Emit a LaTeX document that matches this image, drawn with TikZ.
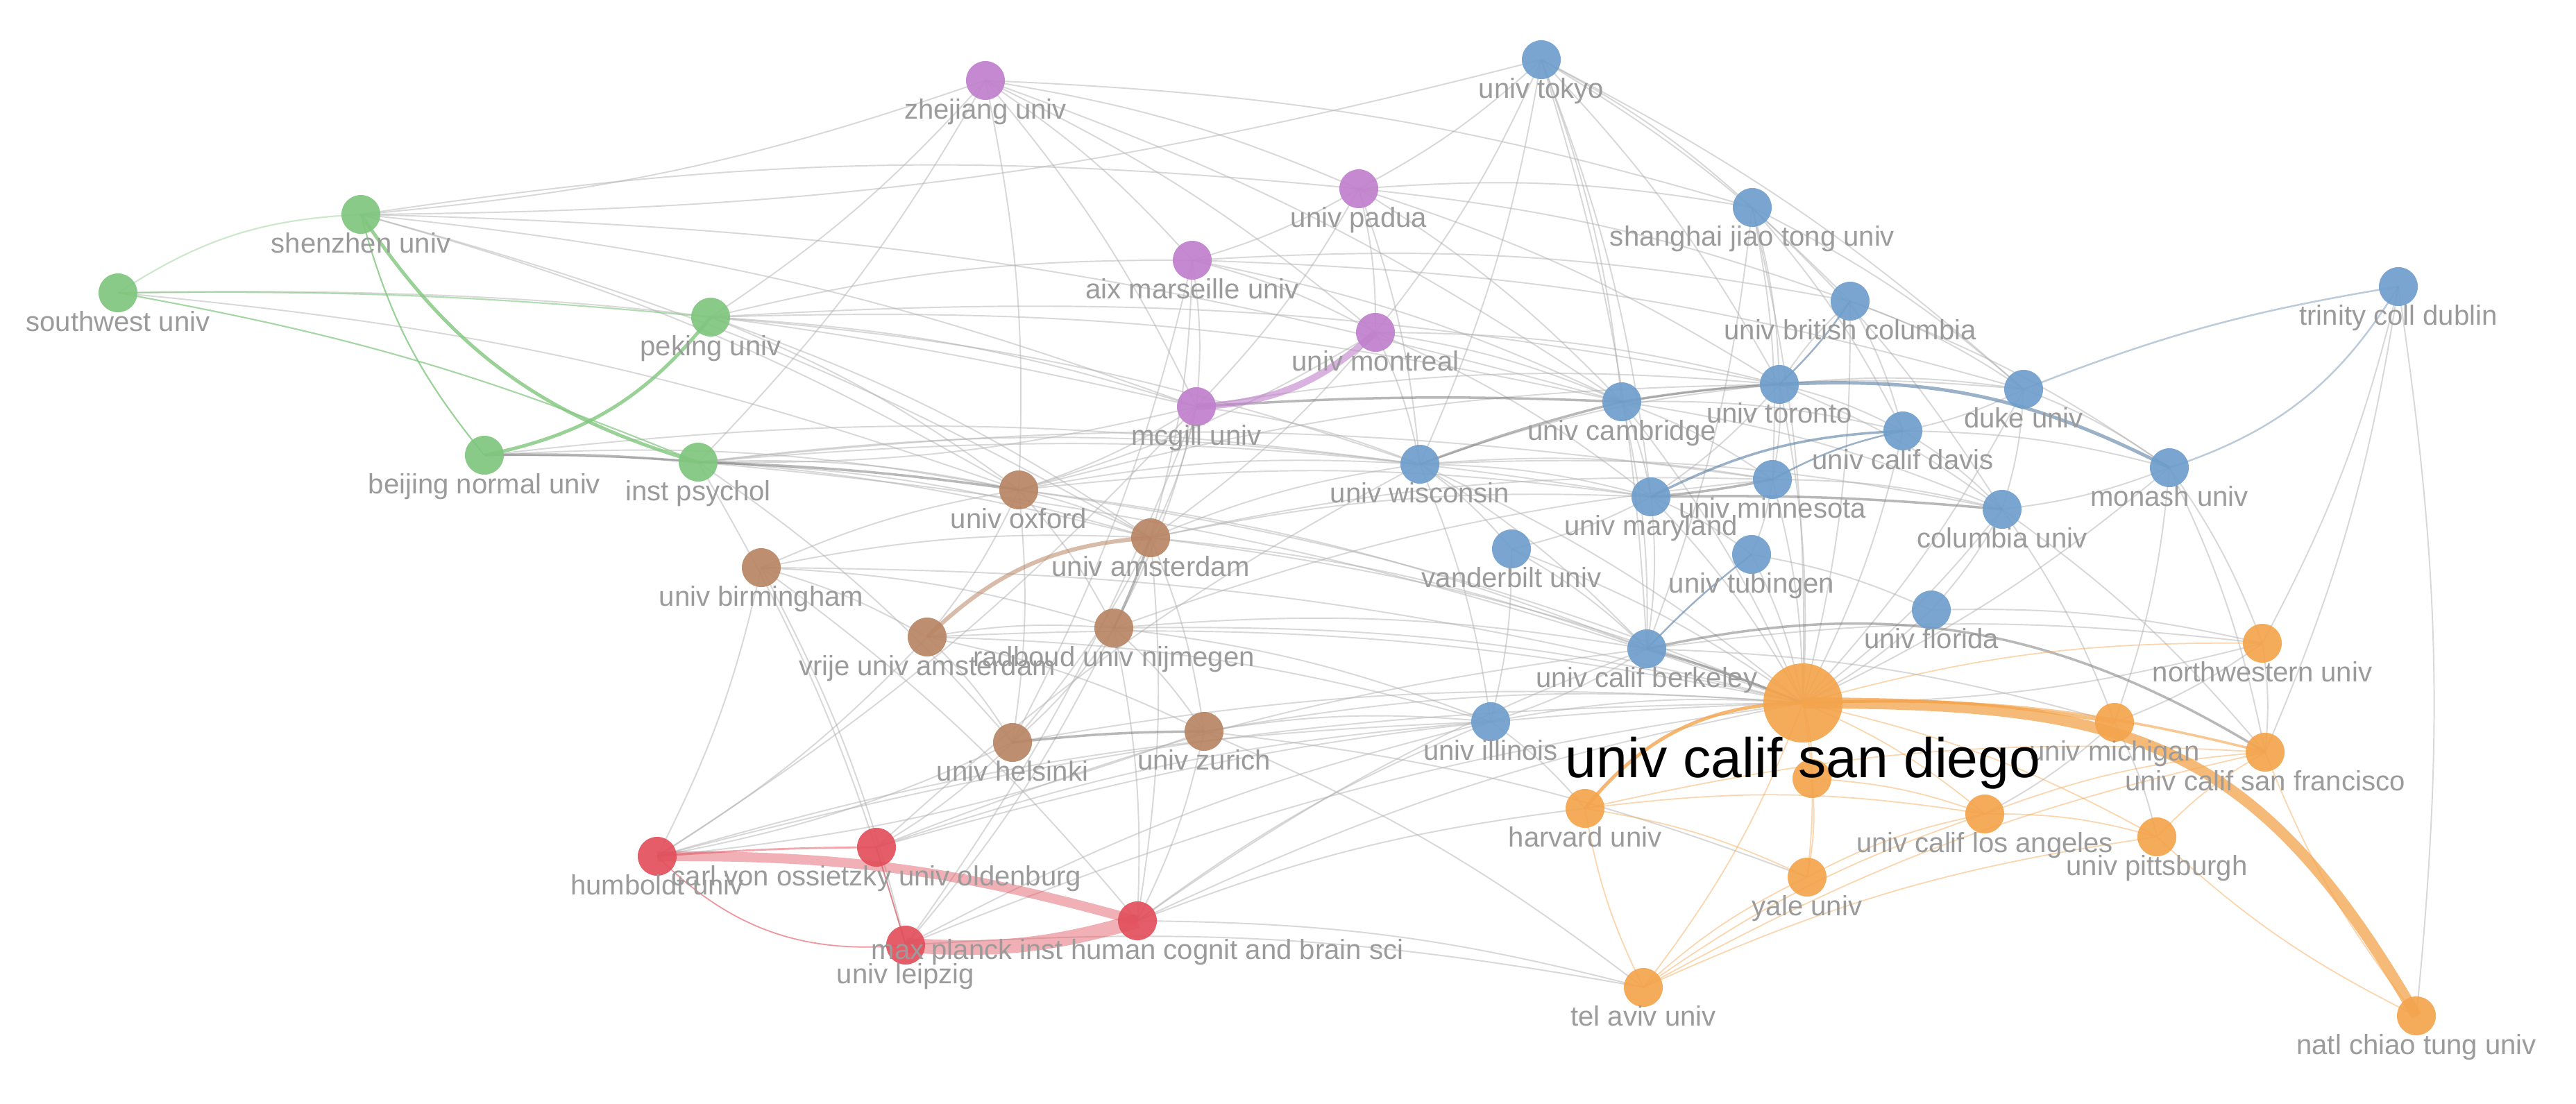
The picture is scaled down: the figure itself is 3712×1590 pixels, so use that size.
\documentclass[tikz,border=0pt]{standalone}
\usepackage{fontspec}
\setmainfont{Liberation Sans}
\usetikzlibrary{backgrounds}
\definecolor{cG}{RGB}{128,198,126}
\definecolor{cP}{RGB}{192,128,204}
\definecolor{cB}{RGB}{110,158,204}
\definecolor{cBr}{RGB}{185,133,100}
\definecolor{cR}{RGB}{226,80,92}
\definecolor{cO}{RGB}{244,164,76}
\definecolor{labgray}{RGB}{155,155,155}
\newcommand\labf{\fontsize{11.4}{13}\selectfont}
\newcommand\bigf{\fontsize{22.9}{26}\selectfont}
\tikzset{
  nd/.style={circle, minimum size=0.56cm, inner sep=0pt, fill opacity=0.92},
  gN/.style={nd, fill=cG}, pN/.style={nd, fill=cP}, bN/.style={nd, fill=cB},
  brN/.style={nd, fill=cBr}, rN/.style={nd, fill=cR}, oN/.style={nd, fill=cO},
  lab/.style={text=labgray, font=\labf, inner sep=0pt, anchor=base},
  ge/.style={draw=black!30, line width=0.55pt, opacity=0.5},
  ge2/.style={draw=black!55, line width=1pt, opacity=0.5},
  oe/.style={draw=cO, line width=0.5pt, opacity=0.45},
  be/.style={draw=cB!80!black, line width=0.7pt, opacity=0.6},
}
\begin{document}
\begin{tikzpicture}[x=0.01cm, y=-0.01cm]
\useasboundingbox (0,0) rectangle (3712,1590);
% nodes
\node[gN] (sw) at (170,422) {};
\node[gN] (sz) at (520,309) {};
\node[gN] (pk) at (1024,457) {};
\node[gN] (bn) at (698,656) {};
\node[gN] (ip) at (1006,666) {};
\node[pN] (zj) at (1420,116) {};
\node[pN] (pd) at (1958,272) {};
\node[pN] (ax) at (1718,375) {};
\node[pN] (mt) at (1982,479) {};
\node[pN] (mg) at (1724,586) {};
\node[bN] (tk) at (2221,86) {};
\node[bN] (sj) at (2525,299) {};
\node[bN] (bc) at (2666,434) {};
\node[bN] (tc) at (3456,413) {};
\node[bN] (tr) at (2564,554) {};
\node[bN] (ca) at (2337,579) {};
\node[bN] (du) at (2916,561) {};
\node[bN] (dv) at (2742,621) {};
\node[bN] (mo) at (3126,674) {};
\node[bN] (wi) at (2046,669) {};
\node[bN] (mn) at (2554,691) {};
\node[bN] (md) at (2379,716) {};
\node[bN] (co) at (2885,734) {};
\node[bN] (vb) at (2178,791) {};
\node[bN] (tu) at (2524,799) {};
\node[bN] (fl) at (2783,879) {};
\node[bN] (bk) at (2373,935) {};
\node[bN] (il) at (2148,1040) {};
\node[brN] (ox) at (1468,706) {};
\node[brN] (am) at (1658,775) {};
\node[brN] (bh) at (1097,818) {};
\node[brN] (vr) at (1336,918) {};
\node[brN] (rb) at (1605,905) {};
\node[brN] (hs) at (1459,1070) {};
\node[brN] (zu) at (1735,1054) {};
\node[rN] (hb) at (947,1234) {};
\node[rN] (cv) at (1263,1221) {};
\node[rN] (mp) at (1639,1327) {};
\node[rN] (lp) at (1305,1362) {};
\node[oN, minimum size=1.14cm] (sd) at (2598,1013) {};
\node[oN] (hv) at (2284,1165) {};
\node[oN] (ta) at (2368,1423) {};
\node[oN] (ya) at (2604,1264) {};
\node[oN] (ul) at (2860,1173) {};
\node[oN] (pt) at (3108,1206) {};
\node[oN] (mi) at (3047,1041) {};
\node[oN] (nw) at (3260,927) {};
\node[oN] (sf) at (3264,1084) {};
\node[oN] (nc) at (3482,1464) {};
\node[oN] (un) at (2611,1122) {};
% edges
\begin{scope}[on background layer]
\fill[white] (0,0) rectangle (3712,1590);
\foreach \a/\b in {zj/sz, zj/pk, zj/mg, zj/ax, zj/mt, zj/pd, zj/ip, zj/ox, zj/sj, zj/ca,
  tk/pd, tk/mt, tk/wi, tk/ca, tk/bk, tk/sj, tk/bc, tk/du, tk/tr, tk/md, tk/sz,
  sz/pd, sz/ox, sz/mg, sz/ca, sz/am, sw/mg, sw/ox,
  pd/ax, pd/mt, pd/mg, pd/sj, pd/bc, pd/ca, pd/tr, pd/wi,
  ax/mt, ax/mg, ax/bc, ax/du, ax/hs, ax/ca, ax/am,
  mt/tr, mt/ca, mt/wi, mt/md, mt/am, mt/ox,
  mg/ox, mg/am, mg/rb, mg/tr, mg/wi, mg/ip, mg/hb, mg/lp,
  pk/ca, pk/wi, pk/tr, pk/ox, pk/mg, pk/am, pk/ax,
  ip/ox, ip/am, ip/wi, ip/md, ip/sd, ip/mn, ip/hs, ip/lp,
  bn/ox, bn/am, bn/wi,
  bh/hb, bh/am, bh/ox, bh/vr, bh/lp, bh/sd, bh/mp, bh/rb,
  ox/am, ox/wi, ox/vr, ox/rb, ox/hs, ox/tr, ox/sd, ox/bk, ox/md,
  am/wi, am/md, am/sd, am/zu, am/hs, am/bk, am/mp, am/mn,
  vr/rb, vr/hs, vr/zu, vr/sd, vr/il, vr/hb,
  rb/zu, rb/hs, rb/sd, rb/bk, rb/il, rb/mn, rb/lp, rb/mp,
  hs/cv, hs/hb, hs/sd, zu/il, zu/sd, zu/ta, zu/hb, zu/mp, zu/ya,
  hb/il, hb/sd, cv/il, cv/sd, cv/bk, cv/wi,
  mp/sd, mp/il, mp/ta, mp/hv, mp/bk, lp/ta, lp/sd, lp/il,
  wi/md, wi/mn, wi/bk, wi/sd, wi/vb, wi/il, wi/co, wi/tr,
  ca/md, ca/mn, ca/dv, ca/sd, ca/bk, ca/du, ca/co,
  tr/du, tr/dv, tr/mn, tr/md, tr/sd, tr/co, tr/bc,
  bc/dv, bc/du, bc/mo, bc/sd, sj/tr, sj/mn, sj/dv, sj/sd, sj/bk, sj/co, sj/du,
  du/mo, du/dv, du/sd, du/co, dv/mo, dv/co, dv/sd,
  mo/co, mo/sd, mo/nw, mo/sf, mo/mi, tc/sf, tc/nw, tc/nc,
  mn/co, mn/sd, mn/tu, md/sd, md/vb, md/bk, md/tu,
  co/sd, co/fl, co/mi, co/sf, vb/sd, vb/bk, vb/il, tu/sd, tu/fl,
  fl/sd, fl/nw, bk/il, bk/mi, bk/nw, il/sd, il/hv, nw/sd, nw/sf, nw/mi, mi/ul, mi/pt}
  \draw[ge] (\a.center) to[bend left=7] (\b.center);
\foreach \a/\b in {mg/ca, bn/ip, ca/tr, md/co, hs/zu, bk/sd, wi/ca, am/rb, ip/ox, mn/md}
  \draw[ge2] (\a.center) to[bend left=3] (\b.center);
\draw[ge2] (bk.center) to[bend left=22] (sf.center);
% orange
\foreach \a/\b in {sd/ul, sd/pt, sd/ya, sd/un, sd/ta, sd/nw, ta/hv, ta/ya, ta/ul, ya/ul,
  hv/ul, hv/ya, ul/pt, ul/sf, pt/sf, ta/sf, nc/sf, nc/pt, un/ya, un/ul, hv/sf, ta/pt}
  \draw[oe] (\a.center) to[bend left=8] (\b.center);
\draw[cO, line width=1.2pt, opacity=0.7] (sd.center) to[bend left=6] (mi.center);
\draw[cO, line width=1pt, opacity=0.6] (sd.center) to[bend left=8] (sf.center);
\draw[cO, line width=1.4pt, opacity=0.8] (sd.center) to[bend right=25] (hv.center);
\draw[cO, line width=4.5pt, opacity=0.75] (sd.center) to[out=0, in=120, looseness=1.2] (nc.center);
% blue
\draw[be, line width=1.4pt] (tr.center) to[bend left=15] (mo.center);
\draw[be, line width=1pt] (md.center) to[bend left=12] (dv.center);
\draw[be] (mn.center) to[bend left=8] (dv.center);
\draw[be, opacity=0.4] (tc.center) to[bend right=6] (du.center);
\draw[be, opacity=0.4] (tc.center) to[bend left=20] (mo.center);
\draw[be] (bk.center) to[bend left=4] (tu.center);
\draw[be] (bc.center) to[bend left=6] (tr.center);
% green
\draw[cG, line width=1.4pt, opacity=0.8] (sz.center) to[bend right=20] (ip.center);
\draw[cG, line width=1.4pt, opacity=0.8] (bn.center) to[bend right=20] (pk.center);
\draw[cG, line width=0.6pt, opacity=0.8] (sz.center) to[bend right=12] (bn.center);
\draw[cG, line width=0.6pt, opacity=0.7] (sw.center) to[bend left=6] (ip.center);
\draw[cG, line width=0.6pt, opacity=0.6] (sw.center) to[bend left=3] (pk.center);
\draw[cG, line width=0.6pt, opacity=0.4] (sw.center) to[bend left=15] (sz.center);
% purple
\draw[cP, line width=2.8pt, opacity=0.6] (mg.center) to[bend right=20] (mt.center);
% brown
\draw[cBr, line width=1.7pt, opacity=0.55] (vr.center) to[bend left=20] (am.center);
% red
\draw[cR, line width=4pt, opacity=0.45] (hb.center) to[bend left=8] (mp.center);
\draw[cR, line width=6pt, opacity=0.45] (lp.center) to[bend right=10] (mp.center);
\draw[cR, line width=0.8pt, opacity=0.5] (hb.center) to[bend left=2] (cv.center);
\draw[cR, line width=0.5pt, opacity=0.6] (hb.center) to[bend right=25] (lp.center);
\draw[cR, line width=0.5pt, opacity=0.6] (cv.center) -- (lp.center);
\end{scope}
% labels
\foreach \n/\t in {sw/southwest univ, sz/shenzhen univ, pk/peking univ, bn/beijing normal univ,
  ip/inst psychol, zj/zhejiang univ, pd/univ padua, ax/aix marseille univ, mt/univ montreal,
  mg/mcgill univ, tk/univ tokyo, sj/shanghai jiao tong univ, bc/univ british columbia,
  tc/trinity coll dublin, tr/univ toronto, ca/univ cambridge, du/duke univ, dv/univ calif davis,
  mo/monash univ, wi/univ wisconsin, mn/univ minnesota, md/univ maryland, co/columbia univ,
  vb/vanderbilt univ, tu/univ tubingen, fl/univ florida, bk/univ calif berkeley, il/univ illinois,
  ox/univ oxford, am/univ amsterdam, bh/univ birmingham, vr/vrije univ amsterdam,
  rb/radboud univ nijmegen, hs/univ helsinki, zu/univ zurich, hb/humboldt univ,
  cv/carl von ossietzky univ oldenburg, mp/max planck inst human cognit and brain sci,
  lp/univ leipzig, hv/harvard univ, ta/tel aviv univ, ya/yale univ, ul/univ calif los angeles,
  pt/univ pittsburgh, mi/univ michigan, nw/northwestern univ, sf/univ calif san francisco,
  nc/natl chiao tung univ}
  \node[lab] (\n-l) at ([yshift=-0.55cm]\n.center) {\t};
\node[lab, text=black, font=\bigf] (sd-l) at ([yshift=-1.07cm]sd.center) {univ calif san diego};
\end{tikzpicture}
\end{document}
